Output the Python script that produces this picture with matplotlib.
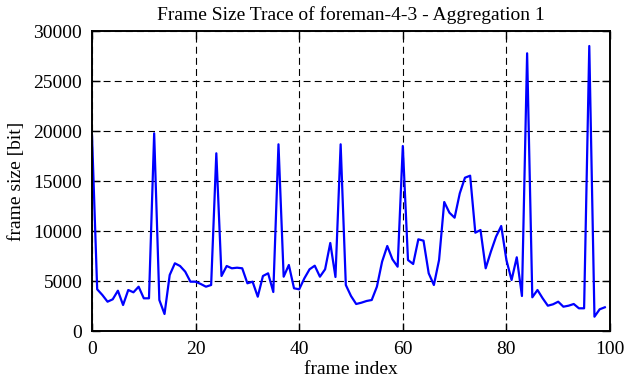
import numpy as np
import matplotlib
matplotlib.use("Agg")
import matplotlib.pyplot as plt

plt.rcParams['font.family'] = 'Liberation Serif'
plt.rcParams['font.size'] = 14
plt.rcParams['lines.scale_dashes'] = False

# frame sizes (bit), frame index 0..99
frame_size = [
    19600, 4170, 3600, 2930, 3170, 4030, 2600, 4100, 3870, 4430,
    3270, 3270, 19770, 3100, 1700, 5600, 6770, 6500, 5930, 4930,
    4930, 4700, 4430, 4600, 17770, 5500, 6500, 6270, 6330, 6270,
    4770, 4930, 3430, 5500, 5770, 3900, 18670, 5430, 6600, 4270,
    4170, 5270, 6170, 6530, 5430, 6170, 8800, 5400, 18670, 4600,
    3500, 2700, 2830, 3000, 3100, 4430, 6930, 8500, 7170, 6430,
    18500, 7100, 6700, 9170, 9030, 5770, 4600, 7100, 12900, 11830,
    11330, 13770, 15330, 15530, 9830, 10100, 6270, 7930, 9430, 10500,
    7100, 5100, 7370, 3500, 27770, 3370, 4100, 3270, 2530, 2670,
    2930, 2430, 2530, 2700, 2270, 2270, 28500, 1430, 2170, 2370,
]
frame_index = np.arange(len(frame_size))

fig = plt.figure(figsize=(6.26, 3.82), dpi=100)
ax = fig.add_axes([92/626, 1 - 331/382, 518/626, 300/382])

ax.plot(frame_index, frame_size, color=(0, 0, 1), lw=1.6)

ax.set_xlim(0, 100)
ax.set_ylim(0, 30000)
ax.set_xticks(np.arange(0, 101, 20))
ax.set_yticks(np.arange(0, 30001, 5000))
ax.grid(True, color='black', linestyle=(0, (5, 3)), linewidth=0.8)
ax.tick_params(direction='in', length=6, width=1, top=True, right=True, pad=7)
for s in ax.spines.values():
    s.set_linewidth(1.4)

ax.set_title("Frame Size Trace of foreman-4-3 - Aggregation 1", fontsize=14, pad=8)
ax.set_xlabel("frame index", labelpad=2)
ax.set_ylabel("frame size [bit]", labelpad=6)

fig.savefig("out.png", dpi=100)
